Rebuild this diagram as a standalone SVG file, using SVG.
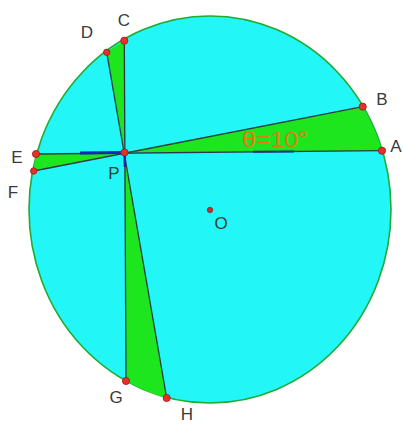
<svg xmlns="http://www.w3.org/2000/svg" width="403" height="424" viewBox="0 0 403 424">
<style>
.lbl{font-family:"Liberation Sans",Arial,sans-serif;font-size:17px;fill:#3a3a3a;text-anchor:middle}
.sec{fill:#1ee61e;stroke:none}
.chord{stroke:#2c3a48;stroke-width:1.3;fill:none}
.pt{fill:#e8302a;stroke:#a01818;stroke-width:0.8}
</style>
<rect width="403" height="424" fill="#ffffff"/>
<g id="circle">
<ellipse cx="210" cy="209.5" rx="181" ry="193.5" fill="#22f6f6" stroke="#22aa33" stroke-width="1.6"/>
</g>
<g id="sectors">
<path class="sec" d="M124.5,152.5 L382,150.7 A181,193.5 0 0 0 362.7,106.7 Z"/>
<path class="sec" d="M124.5,152.5 L36,154 A181,193.5 0 0 0 33.7,171 Z"/>
<path class="sec" d="M124.5,152.5 L124.3,40.7 A181,193.5 0 0 0 106.7,52.3 Z"/>
<path class="sec" d="M124.5,152.5 L126,381 A181,193.5 0 0 0 166.7,398 Z"/>
</g>
<g id="connectors">
<line class="chord" x1="382" y1="150.7" x2="36" y2="154"/>
<line class="chord" x1="362.7" y1="106.7" x2="33.7" y2="171"/>
<line class="chord" x1="124.3" y1="40.7" x2="126" y2="381"/>
<line class="chord" x1="106.7" y1="52.3" x2="166.7" y2="398"/>
<line x1="80" y1="153" x2="124.5" y2="152.5" stroke="#1428b4" stroke-width="3"/>
<line x1="124.6" y1="152.5" x2="125" y2="167" stroke="#1428b4" stroke-width="2.5"/>
<line x1="253" y1="151.7" x2="294" y2="151.4" stroke="#1e3090" stroke-width="2"/>
</g>
<g id="A"><circle class="pt" cx="382" cy="150.7" r="3.6"/><text class="lbl" x="396" y="152">A</text></g>
<g id="B"><circle class="pt" cx="362.7" cy="106.7" r="3.6"/><text class="lbl" x="382" y="105">B</text></g>
<g id="C"><circle class="pt" cx="124.3" cy="40.7" r="3.6"/><text class="lbl" x="124" y="26">C</text></g>
<g id="D"><circle class="pt" cx="106.7" cy="52.3" r="3.2"/><text class="lbl" x="87" y="38">D</text></g>
<g id="E"><circle class="pt" cx="36" cy="154" r="3.6"/><text class="lbl" x="17" y="163">E</text></g>
<g id="F"><circle class="pt" cx="33.7" cy="171" r="3.2"/><text class="lbl" x="13" y="198">F</text></g>
<g id="G"><circle class="pt" cx="126" cy="381" r="3.6"/><text class="lbl" x="116" y="403">G</text></g>
<g id="H"><circle class="pt" cx="166.7" cy="398" r="3.6"/><text class="lbl" x="187" y="420">H</text></g>
<g id="P"><circle class="pt" cx="124.5" cy="152.5" r="3.6"/><text class="lbl" x="114" y="179">P</text></g>
<g id="O"><circle cx="210" cy="210" r="2.8" fill="#c03030" stroke="#802020" stroke-width="0.6"/><text class="lbl" x="221" y="229">O</text></g>
<text x="242" y="147" font-family="'Liberation Sans Narrow','Liberation Sans',Arial,sans-serif" font-size="22" fill="#e07a10" textLength="66" lengthAdjust="spacingAndGlyphs">θ=10°</text>
</svg>
